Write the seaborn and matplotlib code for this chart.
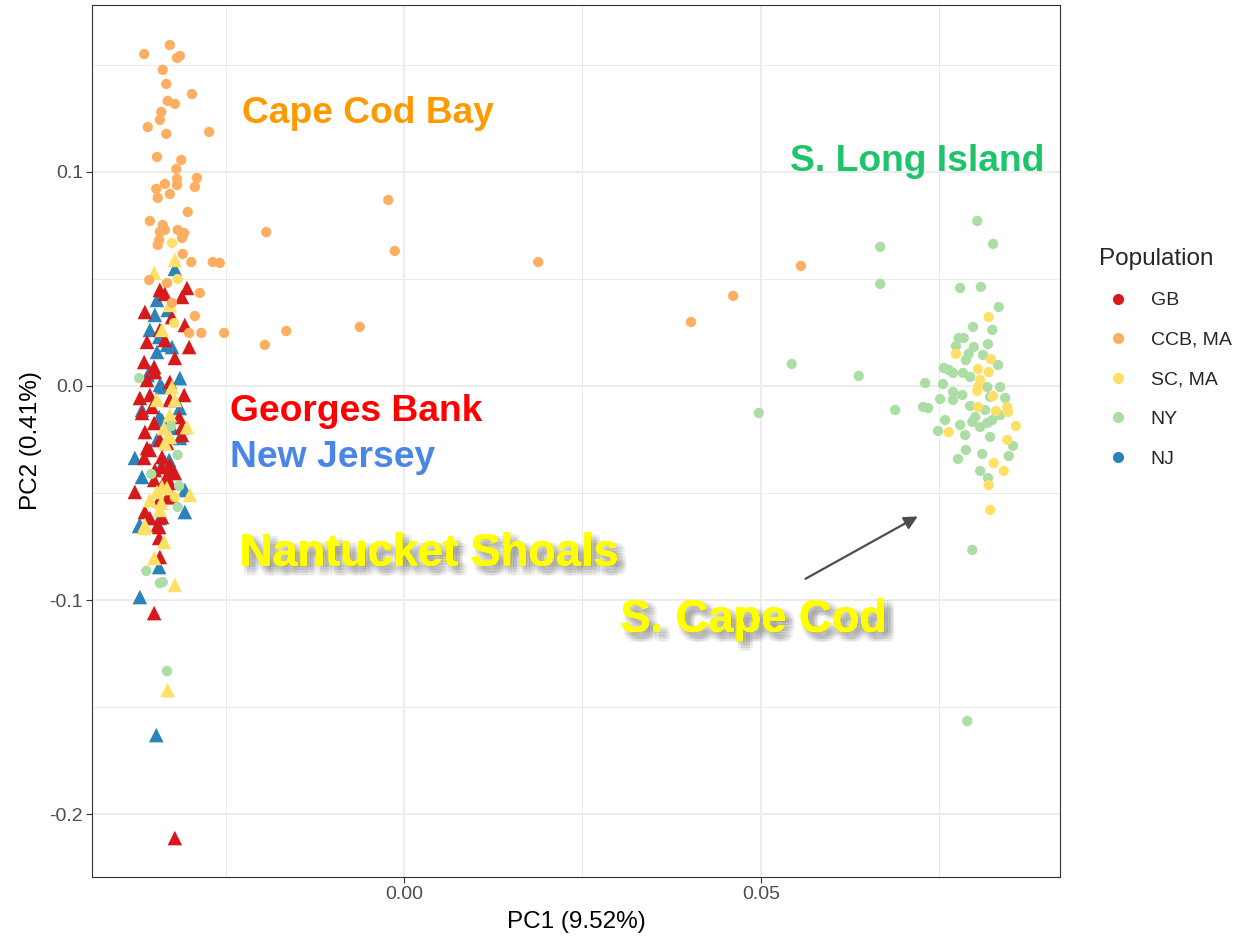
import matplotlib
matplotlib.use("Agg")
import pandas as pd
import seaborn as sns
import matplotlib.pyplot as plt
import matplotlib.patheffects as pe
from matplotlib.lines import Line2D

# --- data ---
populations = ["GB", "CCB, MA", "SC, MA", "NY", "NJ"]
pop_colors = ["#D7191C", "#FDAE61", "#FFE066", "#ABDDA4", "#2B83BA"]

# Georges Bank (triangles)
gb_pc1 = [-0.0304, -0.0311, -0.0363, -0.0325, -0.0342, -0.0360, -0.0301, -0.0321, -0.0364, -0.0350,
          -0.0360, -0.0308, -0.0370, -0.0353, -0.0367, -0.0315, -0.0350, -0.0363, -0.0311, -0.0332,
          -0.0356, -0.0339, -0.0364, -0.0325, -0.0332, -0.0350, -0.0377, -0.0343, -0.0363, -0.0325,
          -0.0328, -0.0339, -0.0343, -0.0343, -0.0342, -0.0350, -0.0321, -0.0311, -0.0360, -0.0328,
          -0.0349, -0.0321, -0.0335, -0.0331, -0.0356, -0.0339, -0.0345, -0.0328, -0.0349, -0.0335,
          -0.0342, -0.0335, -0.0307, -0.0356, -0.0328, -0.0342]
gb_pc2 = [0.0458, 0.0416, 0.0346, 0.0322, 0.0262, 0.0206, 0.0182, 0.0131, 0.0112, 0.0089,
          0.0028, -0.0042, -0.0056, -0.0098, -0.0126, -0.0145, -0.0173, -0.0215, -0.0229, -0.0266,
          -0.0299, -0.0332, -0.0336, -0.0393, -0.0425, -0.0439, -0.0495, -0.0533, -0.0589, -0.0519,
          -0.0453, -0.0379, -0.0659, -0.0710, -0.0799, -0.1061, -0.2112, -0.0192, -0.0290, -0.0369,
          -0.0393, -0.0407, -0.0439, -0.0519, -0.0617, -0.0612, -0.0650, 0.0019, 0.0065, 0.0430,
          0.0449, 0.0215, 0.0285, -0.0042, -0.0065, -0.0252]

# New Jersey (triangles)
nj_pc1 = [-0.0346, -0.0349, -0.0343, -0.0332, -0.0346, -0.0356, -0.0342, -0.0314, -0.0328, -0.0367,
          -0.0343, -0.0325, -0.0314, -0.0346, -0.0377, -0.0329, -0.0307, -0.0339, -0.0367, -0.0307,
          -0.0371, -0.0342, -0.0343, -0.0370, -0.0347, -0.0321, -0.0325, -0.0359, -0.0339, -0.0314,
          -0.0339, -0.0335, -0.0370, -0.0331, -0.0356]
nj_pc2 = [0.0402, 0.0332, 0.0229, 0.0192, 0.0159, 0.0065, 0.0005, 0.0037, -0.0065, -0.0112,
          -0.0145, -0.0196, -0.0243, -0.0252, -0.0336, -0.0346, -0.0486, -0.0369, -0.0425, -0.0589,
          -0.0654, -0.0617, -0.0846, -0.0986, -0.1631, 0.0547, 0.0182, 0.0051, -0.0005, -0.0103,
          -0.0159, -0.0355, -0.0650, 0.0355, 0.0262]

# South Cape Cod, triangles (left cluster)
sc_tri_pc1 = [-0.0321, -0.0350, -0.0328, -0.0339, -0.0325, -0.0346, -0.0321, -0.0304, -0.0336, -0.0328,
              -0.0335, -0.0346, -0.0332, -0.0300, -0.0356, -0.0342, -0.0364, -0.0336, -0.0350, -0.0321,
              -0.0331, -0.0339, -0.0340, -0.0363, -0.0328]
sc_tri_pc2 = [0.0589, 0.0528, 0.0379, 0.0262, -0.0005, -0.0065, -0.0065, -0.0192, -0.0196, -0.0238,
              -0.0266, -0.0495, -0.0477, -0.0509, -0.0533, -0.0579, -0.0664, -0.0729, -0.0804, -0.0930,
              -0.1421, -0.0472, -0.0545, -0.0650, -0.0136]

# Cape Cod Bay (circles)
ccb_pc1 = [-0.0328, -0.0364, -0.0314, -0.0318, -0.0338, -0.0333, -0.0297, -0.0331, -0.0321, -0.0340,
           -0.0342, -0.0359, -0.0333, -0.0273, -0.0346, -0.0312, -0.0319, -0.0318, -0.0290, -0.0293,
           -0.0318, -0.0335, -0.0347, -0.0345, -0.0328, -0.0303, -0.0356, -0.0338, -0.0342, -0.0335,
           -0.0317, -0.0308, -0.0311, -0.0343, -0.0345, -0.0310, -0.0298, -0.0268, -0.0258, -0.0193,
           -0.0357, -0.0332, -0.0286, -0.0325, -0.0293, -0.0301, -0.0284, -0.0252, -0.0195, -0.0165,
           -0.0062, -0.0022, -0.0013, 0.0188, 0.0402, 0.0461, 0.0556]
ccb_pc2 = [0.1593, 0.1551, 0.1542, 0.1533, 0.1477, 0.1411, 0.1364, 0.1332, 0.1318, 0.1280,
           0.1243, 0.1210, 0.1178, 0.1187, 0.1070, 0.1056, 0.1014, 0.0967, 0.0972, 0.0930,
           0.0939, 0.0944, 0.0921, 0.0879, 0.0897, 0.0813, 0.0771, 0.0752, 0.0720, 0.0729,
           0.0729, 0.0715, 0.0692, 0.0682, 0.0659, 0.0617, 0.0579, 0.0579, 0.0575, 0.0719,
           0.0495, 0.0481, 0.0435, 0.0388, 0.0327, 0.0248, 0.0248, 0.0248, 0.0192, 0.0257,
           0.0276, 0.0869, 0.0631, 0.0579, 0.0299, 0.0421, 0.0561]

# New York / S. Long Island (circles)
ny_pc1 = [-0.0371, -0.0326, -0.0317, -0.0354, -0.0315, -0.0317, -0.0361, -0.0342, -0.0338, -0.0332,
          0.0803, 0.0825, 0.0779, 0.0808, 0.0833, 0.0824, 0.0797, 0.0777, 0.0784, 0.0773,
          0.0798, 0.0818, 0.0791, 0.0787, 0.0756, 0.0763, 0.0730, 0.0755, 0.0769, 0.0783,
          0.0793, 0.0811, 0.0832, 0.0835, 0.0751, 0.0769, 0.0817, 0.0821, 0.0842, 0.0769,
          0.0688, 0.0727, 0.0734, 0.0793, 0.0796, 0.0807, 0.0817, 0.0824, 0.0800, 0.0821,
          0.0748, 0.0787, 0.0776, 0.0810, 0.0807, 0.0818, 0.0847, 0.0853, 0.0543, 0.0637,
          0.0497, 0.0667, 0.0667, 0.0796, 0.0789, 0.0782, 0.0814, 0.0758, 0.0779, 0.0835,
          0.0786]
ny_pc2 = [0.0037, -0.0187, -0.0322, -0.0411, -0.0467, -0.0565, -0.0864, -0.0921, -0.0916, -0.1332,
          0.0771, 0.0664, 0.0458, 0.0463, 0.0369, 0.0262, 0.0276, 0.0224, 0.0224, 0.0187,
          0.0182, 0.0196, 0.0150, 0.0121, 0.0084, 0.0075, 0.0014, 0.0009, 0.0061, 0.0061,
          0.0042, 0.0145, 0.0098, -0.0005, -0.0061, -0.0028, -0.0005, -0.0051, -0.0056, -0.0065,
          -0.0112, -0.0098, -0.0103, -0.0093, -0.0168, -0.0192, -0.0173, -0.0159, -0.0145, -0.0238,
          -0.0210, -0.0299, -0.0341, -0.0318, -0.0397, -0.0430, -0.0327, -0.0280, 0.0103, 0.0047,
          -0.0126, 0.0650, 0.0477, -0.0766, -0.1565, -0.0042, -0.0112, -0.0159, -0.0182, -0.0136,
          -0.0229]

# South Cape Cod, circles
sc_circ_pc1 = [-0.0325, -0.0317, -0.0322, -0.0321,
               0.0819, 0.0773, 0.0822, 0.0804, 0.0819, 0.0807, 0.0803, 0.0825, 0.0804, 0.0804,
               0.0829, 0.0845, 0.0846, 0.0857, 0.0763, 0.0845, 0.0826, 0.0840, 0.0819, 0.0821]
sc_circ_pc2 = [0.0668, 0.0500, 0.0294, -0.0519,
               0.0322, 0.0150, 0.0126, 0.0079, 0.0065, 0.0028, -0.0023, -0.0047, -0.0005, -0.0098,
               -0.0117, -0.0098, -0.0121, -0.0187, -0.0215, -0.0252, -0.0360, -0.0397, -0.0463, -0.0579]


def frame(pc1, pc2, pop, shape):
    return pd.DataFrame({"pc1": pc1, "pc2": pc2, "pop": pop, "shape": shape})


df = pd.concat([
    frame(nj_pc1, nj_pc2, "NJ", "tri"),
    frame(gb_pc1, gb_pc2, "GB", "tri"),
    frame(sc_tri_pc1, sc_tri_pc2, "SC, MA", "tri"),
    frame(ccb_pc1, ccb_pc2, "CCB, MA", "circ"),
    frame(ny_pc1, ny_pc2, "NY", "circ"),
    frame(sc_circ_pc1, sc_circ_pc2, "SC, MA", "circ"),
], ignore_index=True)

palette = dict(zip(populations, pop_colors))

sns.set_theme(style="whitegrid")
plt.rcParams["font.family"] = ["Liberation Sans", "DejaVu Sans"]

fig, ax = plt.subplots(figsize=(12.37, 9.41), dpi=100)
fig.subplots_adjust(left=0.0744, right=0.857, bottom=0.068, top=0.9947)

sns.scatterplot(data=df[df["shape"] == "tri"], x="pc1", y="pc2", hue="pop", palette=palette,
                marker="^", s=110, linewidth=0, legend=False, ax=ax, zorder=3)
sns.scatterplot(data=df[df["shape"] == "circ"], x="pc1", y="pc2", hue="pop", palette=palette,
                marker="o", s=55, linewidth=0, legend=False, ax=ax, zorder=4)

ax.set_xlim(-0.0437, 0.0919)
ax.set_ylim(-0.2294, 0.178)
ax.set_xticks([0.0, 0.05])
ax.set_xticklabels(["0.00", "0.05"])
ax.set_xticks([-0.025, 0.025, 0.075], minor=True)
ax.set_yticks([-0.2, -0.1, 0.0, 0.1])
ax.set_yticklabels(["-0.2", "-0.1", "0.0", "0.1"])
ax.set_yticks([-0.15, -0.05, 0.05, 0.15], minor=True)
ax.grid(which="major", color="#EBEBEB", linewidth=1.3)
ax.grid(which="minor", color="#EBEBEB", linewidth=0.7)
ax.set_axisbelow(True)
ax.tick_params(which="major", bottom=True, left=True, length=4, width=0.8, color="#333333",
               labelsize=14, labelcolor="#4D4D4D", pad=2.5)
ax.tick_params(which="minor", length=0)
for sp in ax.spines.values():
    sp.set_color("#333333")
    sp.set_linewidth(0.8)

ax.set_xlabel("PC1 (9.52%)", fontsize=17.5, color="black", labelpad=6)
ax.set_ylabel("PC2 (0.41%)", fontsize=17.5, color="black", labelpad=5)

# region labels
bold = dict(fontweight="bold", ha="left", va="center", zorder=6)
ax.text(-0.0227, 0.1271, "Cape Cod Bay", color="#FF9900", fontsize=26.7, **bold)
ax.text(0.0541, 0.1051, "S. Long Island", color="#1DC46C", fontsize=26.8, **bold)
ax.text(-0.0244, -0.0117, "Georges Bank", color="#FF0000", fontsize=26.8, **bold)
ax.text(-0.0244, -0.0332, "New Jersey", color="#4A86E8", fontsize=26.8, **bold)

# soft drop shadow: several faint offset copies
shadow = [pe.withSimplePatchShadow(offset=(dx, -dy), shadow_rgbFace="#555555", alpha=0.06)
          for dx in (1, 3, 5, 7) for dy in (1, 3, 5, 7)] + [pe.Normal()]
ax.text(-0.0230, -0.0785, "Nantucket Shoals", color="#FFFF00", fontsize=32.5,
        path_effects=shadow, **bold)
ax.text(0.0303, -0.1094, "S. Cape Cod", color="#FFFF00", fontsize=32.6,
        path_effects=shadow, **bold)
ax.annotate("", xy=(0.0723, -0.0603), xytext=(0.0559, -0.0907),
            arrowprops=dict(arrowstyle="-|>", color="#4D4D4D", lw=1.6, mutation_scale=20),
            zorder=6)

handles = [Line2D([], [], marker="o", linestyle="", markersize=8, color=c, markeredgewidth=0)
           for c in pop_colors]
leg = fig.legend(handles, populations, title="Population", loc="upper left",
                 bbox_to_anchor=(1091 / 1237, 1 - 240 / 941), frameon=False, fontsize=14,
                 title_fontsize=17.5, labelspacing=1.13, handlelength=2.0, handletextpad=0.67,
                 borderaxespad=0)
leg._legend_box.align = "left"

fig.savefig("out.png", dpi=100)
